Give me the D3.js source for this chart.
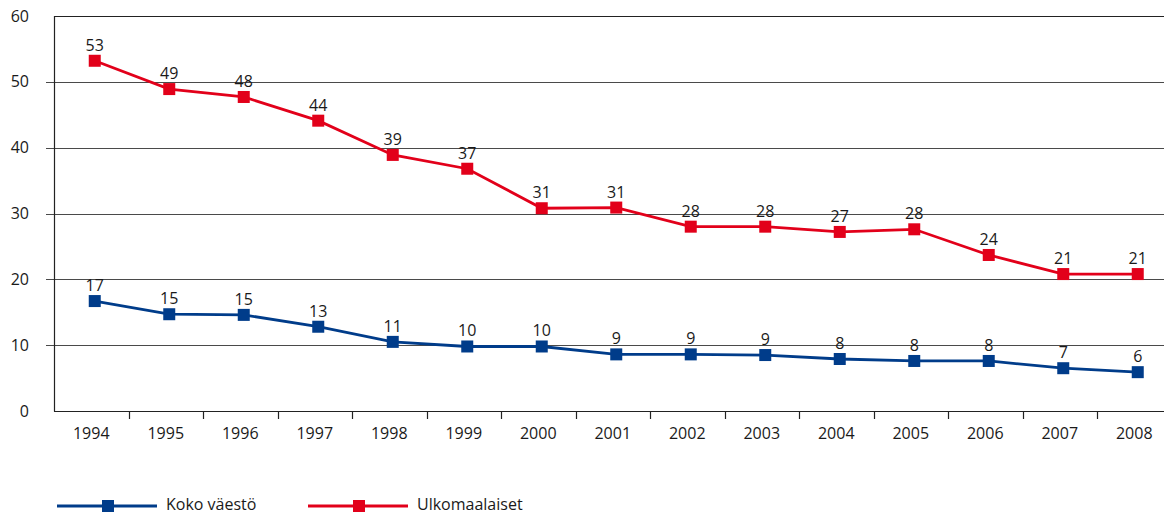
<!DOCTYPE html>
<html>
<head>
<meta charset="utf-8">
<script src="https://cdn.jsdelivr.net/npm/d3@7"></script>
<style>
    body { margin: 0; background: #fff; }
    svg text { font-family: "Open Sans", sans-serif; fill: #1a1a1a; }
</style>
</head>
<body>
<div class="chart"></div>
<script>
// data
const years = ["1994", "1995", "1996", "1997", "1998", "1999", "2000", "2001",
    "2002", "2003", "2004", "2005", "2006", "2007", "2008"];
const koko = [16.7, 14.7, 14.6, 12.8, 10.5, 9.8, 9.8, 8.6, 8.6, 8.5, 7.9, 7.6, 7.6, 6.5, 5.9];
const ulko = [53.2, 48.9, 47.7, 44.1, 38.9, 36.8, 30.8, 30.9, 28.0, 28.0, 27.2, 27.6, 23.7, 20.8, 20.8];
const kokoLabels = ["17", "15", "15", "13", "11", "10", "10", "9", "9", "9", "8", "8", "8", "7", "6"];
const ulkoLabels = ["53", "49", "48", "44", "39", "37", "31", "31", "28", "28", "27", "28", "24", "21", "21"];
const yTicks = [0, 10, 20, 30, 40, 50, 60];
const seriesNames = ["Koko väestö", "Ulkomaalaiset"];

const blue = "#003c8a";
const red = "#e2001a";

const width = 1164;
const height = 516;
const svg = d3.select(".chart").append("svg")
    .attr("width", width)
    .attr("height", height);

const xScale = d3.scaleBand()
    .domain(years)
    .range([54, 1171.5]);
const markerShift = 3.5; // markers sit a bit right of the band centre
const yScale = d3.scaleLinear()
    .domain([0, 60])
    .range([411, 16]);

// grid lines (10..50 reach out to the left as ticks)
svg.selectAll(".grid")
    .data(yTicks)
    .enter().append("line")
    .attr("class", "grid")
    .attr("x1", d => (d === 0 || d === 60) ? 54 : 46)
    .attr("x2", width)
    .attr("y1", d => Math.round(yScale(d)) + 0.5)
    .attr("y2", d => Math.round(yScale(d)) + 0.5)
    .style("stroke", d => (d === 0 || d === 60) ? "#222" : "#4a4a4a")
    .style("stroke-width", 1.2);

// left axis line
svg.append("line")
    .attr("x1", 54.5).attr("x2", 54.5)
    .attr("y1", yScale(60)).attr("y2", yScale(0) + 0.5)
    .style("stroke", "#222")
    .style("stroke-width", 1.2);

// y labels
svg.selectAll(".ylab")
    .data(yTicks)
    .enter().append("text")
    .attr("class", "ylab")
    .attr("x", 29)
    .attr("y", d => yScale(d))
    .attr("dy", "0.35em")
    .attr("text-anchor", "end")
    .style("font-size", "16px")
    .text(d => d);

// x ticks between the categories
svg.selectAll(".xtick")
    .data(years.slice(1))
    .enter().append("line")
    .attr("class", "xtick")
    .attr("x1", d => Math.round(xScale(d)) + 0.5)
    .attr("x2", d => Math.round(xScale(d)) + 0.5)
    .attr("y1", yScale(0))
    .attr("y2", yScale(0) + 8)
    .style("stroke", "#222")
    .style("stroke-width", 1.2);

// x labels
svg.selectAll(".xlab")
    .data(years)
    .enter().append("text")
    .attr("class", "xlab")
    .attr("x", d => xScale(d) + xScale.bandwidth() / 2)
    .attr("y", 433)
    .attr("dy", "0.35em")
    .attr("text-anchor", "middle")
    .style("font-size", "16px")
    .text(d => d);

const px = (d, i) => xScale(years[i]) + xScale.bandwidth() / 2 + markerShift;

function drawSeries(values, labels, color, cls) {
    const line = d3.line()
        .x((d, i) => px(d, i))
        .y(d => yScale(d));

    svg.append("path")
        .datum(values)
        .attr("d", line)
        .attr("fill", "none")
        .style("stroke", color)
        .style("stroke-width", 2.8);

    svg.selectAll(".dot-" + cls)
        .data(values)
        .enter().append("rect")
        .attr("class", "dot-" + cls)
        .attr("x", (d, i) => px(d, i) - 6)
        .attr("y", d => yScale(d) - 6)
        .attr("width", 12)
        .attr("height", 12)
        .style("fill", color);

    svg.selectAll(".val-" + cls)
        .data(values)
        .enter().append("text")
        .attr("class", "val-" + cls)
        .attr("x", (d, i) => px(d, i))
        .attr("y", d => yScale(d) - 10)
        .attr("text-anchor", "middle")
        .style("font-size", "16px")
        .text((d, i) => labels[i]);
}

drawSeries(koko, kokoLabels, blue, "koko");
drawSeries(ulko, ulkoLabels, red, "ulko");

// legend
const legendColors = [blue, red];
const legendX = [57, 308];
const legend = svg.selectAll(".legend")
    .data(seriesNames)
    .enter().append("g")
    .attr("class", "legend")
    .attr("transform", (d, i) => "translate(" + legendX[i] + ",506)");

legend.append("line")
    .attr("x1", 0).attr("x2", 100)
    .attr("y1", 0).attr("y2", 0)
    .style("stroke", (d, i) => legendColors[i])
    .style("stroke-width", 2.8);

legend.append("rect")
    .attr("x", 45).attr("y", -6)
    .attr("width", 12).attr("height", 12)
    .style("fill", (d, i) => legendColors[i]);

legend.append("text")
    .attr("x", 109)
    .attr("dy", "0.28em")
    .style("font-size", "16px")
    .text(d => d);
</script>
</body>
</html>
